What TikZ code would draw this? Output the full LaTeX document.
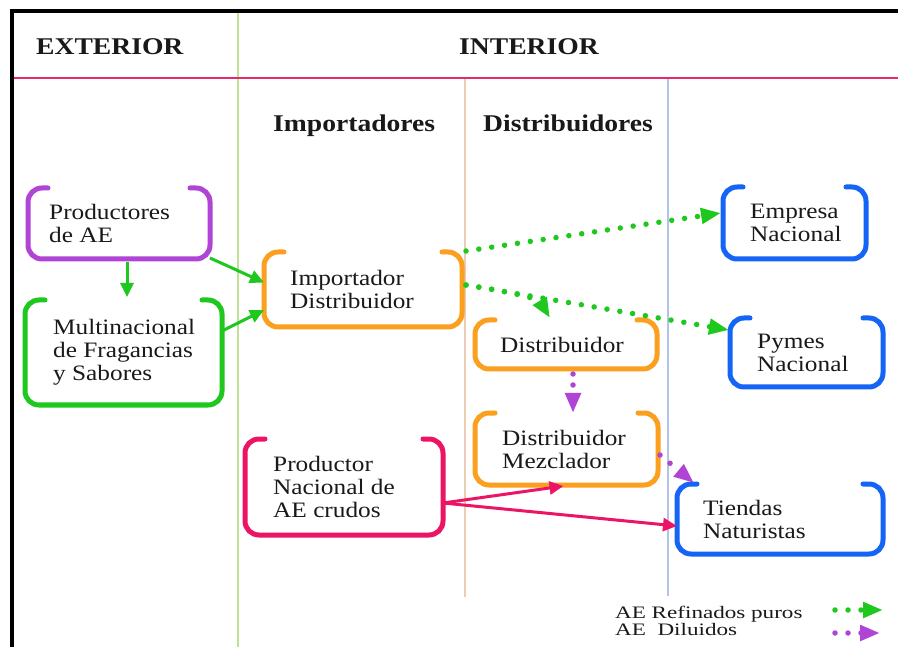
\documentclass[tikz,border=0pt]{standalone}
\usepackage{fontspec}
\setmainfont{Liberation Serif}[FakeStretch=1.15]
\newfontfamily\legfont{Liberation Serif}[FakeStretch=1.32]
\usetikzlibrary{arrows.meta,calc}
\definecolor{cpur}{RGB}{176,68,212}
\definecolor{cgreen}{RGB}{30,200,30}
\definecolor{corange}{RGB}{250,160,30}
\definecolor{cpink}{RGB}{236,20,100}
\definecolor{cblue}{RGB}{20,100,245}
\definecolor{lpink}{RGB}{232,40,110}
\definecolor{lgreen}{RGB}{190,225,150}
\definecolor{ltan}{RGB}{235,205,180}
\definecolor{lblue}{RGB}{175,195,235}
\definecolor{txtc}{RGB}{25,25,25}
\begin{document}
\begin{tikzpicture}[x=1pt,y=-1pt,
  boxn/.style={draw=none,inner sep=0pt,outer sep=0pt},
  bracket/.style={line width=5pt,rounded corners=14pt,line cap=round},
  txt/.style={align=left,inner sep=0pt,font=\fontsize{22}{23}\selectfont,text=txtc},
  hdr/.style={inner sep=0pt,font=\fontsize{24}{26}\selectfont\bfseries,text=txtc},
  leg/.style={align=left,inner sep=0pt,font=\legfont\fontsize{17.5}{17}\selectfont,text=txtc},
  solidarr/.style={line width=3pt,-{Triangle[length=14pt,width=13pt]}},
  dotarr/.style={line width=5.5pt,line cap=round,dash pattern=on 0pt off 13pt,-{Triangle[length=20pt,width=15pt]}}]
\useasboundingbox (0,0) rectangle (898,647);
\fill[white] (0,0) rectangle (898,647);
% frame and column lines
\draw[lgreen,line width=2.2pt] (238,11) -- (238,647);
\draw[ltan,line width=1.6pt] (465,78) -- (465,597);
\draw[lblue,line width=1.6pt] (668,78) -- (668,596);
\draw[lpink,line width=2.5pt] (11,78) -- (898,78);
\draw[black,line width=4pt] (10,11) -- (898,11);
\draw[black,line width=4pt] (12,9) -- (12,647);
% headers
\node[hdr,anchor=base west] (ext) at (36,55) {EXTERIOR};
\node[hdr,anchor=base] (int) at (529,55) {INTERIOR};
\node[hdr,anchor=base west] (imps) at (273,132) {Importadores};
\node[hdr,anchor=base west] (dists) at (483,132) {Distribuidores};
% boxes
\node[boxn,minimum width=182pt,minimum height=71pt] (prod) at (119,223.5) {};
\node[boxn,minimum width=197pt,minimum height=105pt] (multi) at (123.5,352.5) {};
\node[boxn,minimum width=198pt,minimum height=75pt] (impdist) at (363,289.5) {};
\node[boxn,minimum width=182pt,minimum height=49pt] (dist) at (566,344.5) {};
\node[boxn,minimum width=143pt,minimum height=72pt] (empresa) at (794.5,223) {};
\node[boxn,minimum width=153pt,minimum height=69pt] (pymes) at (806.5,352.5) {};
\node[boxn,minimum width=183pt,minimum height=72pt] (mezcl) at (566.5,449) {};
\node[boxn,minimum width=198pt,minimum height=96pt] (prodnac) at (344,487) {};
\node[boxn,minimum width=206pt,minimum height=70pt] (tiendas) at (780,519) {};
\foreach \n/\c in {prod/cpur,multi/cgreen,impdist/corange,dist/corange,empresa/cblue,pymes/cblue,mezcl/corange,prodnac/cpink,tiendas/cblue}{
  \draw[bracket,\c] ([xshift=20pt]\n.north west) -- (\n.north west) -- (\n.south west) -- (\n.south east) -- (\n.north east) -- ([xshift=-20pt]\n.north east);
}
% texts
\node[txt,anchor=west] (prod-t) at ([xshift=21pt]prod.west) {Productores\\de AE};
\node[txt,anchor=west] (multi-t) at ([xshift=28pt]multi.west) {Multinacional\\de Fragancias\\y Sabores};
\node[txt,anchor=west] (impdist-t) at ([xshift=26pt]impdist.west) {Importador\\Distribuidor};
\node[txt,anchor=west] (dist-t) at ([xshift=25pt]dist.west) {Distribuidor};
\node[txt,anchor=west] (empresa-t) at ([xshift=27pt]empresa.west) {Empresa\\Nacional};
\node[txt,anchor=west] (pymes-t) at ([xshift=27pt]pymes.west) {Pymes\\Nacional};
\node[txt,anchor=west] (mezcl-t) at ([xshift=27pt]mezcl.west) {Distribuidor\\Mezclador};
\node[txt,anchor=west] (prodnac-t) at ([xshift=28pt]prodnac.west) {Productor\\Nacional de\\AE crudos};
\node[txt,anchor=west] (tiendas-t) at ([xshift=26pt]tiendas.west) {Tiendas\\Naturistas};
% solid arrows
\draw[solidarr,cgreen] ([yshift=1pt]prod.south east) -- ([yshift=7pt]impdist.west);
\draw[solidarr,cgreen] ([yshift=21.5pt]multi.east) -- ([yshift=-20.5pt]impdist.west);
\draw[solidarr,cgreen] ([xshift=8pt,yshift=-3pt]prod.south) -- ([xshift=8pt,yshift=3pt]prod.south |- multi.north);
\draw[solidarr,cpink] ([yshift=-16pt]prodnac.east) -- ([xshift=-3pt,yshift=-1pt]mezcl.south);
\draw[solidarr,cpink] ([yshift=-16pt]prodnac.east) -- ([yshift=-7pt]tiendas.west);
% dotted arrows
\draw[dotarr,cgreen] ([xshift=4pt,yshift=1pt]impdist.north east) -- ([xshift=-2pt,yshift=10pt]empresa.west);
\draw[dotarr,cgreen] ([xshift=4pt,yshift=4.5pt]impdist.east) -- ([xshift=-1pt,yshift=22.5pt]pymes.west);
\draw[dotarr,cgreen] ([xshift=4pt,yshift=4.5pt]impdist.east) .. controls (500,290) and (538,298) .. ([xshift=-16pt,yshift=2pt]dist.north);
\draw[dotarr,cpur,dash pattern=on 0pt off 11pt] ([xshift=7pt,yshift=-5pt]dist.south) -- ([xshift=6.5pt]mezcl.north);
\draw[dotarr,cpur] ([xshift=2pt,yshift=-6pt]mezcl.east) -- ([xshift=17pt,yshift=1pt]tiendas.north west);
% legend
\node[leg,anchor=base west] (legtxt) at (615,635) {AE Refinados puros\\AE\ \ Diluidos};
\coordinate (g1) at (835,610);
\coordinate (g2) at (883,610);
\coordinate (p1) at (835,633);
\coordinate (p2) at (880,633);
\draw[dotarr,cgreen] (g1) -- (g2);
\draw[dotarr,cpur] (p1) -- (p2);
\end{tikzpicture}
\end{document}
